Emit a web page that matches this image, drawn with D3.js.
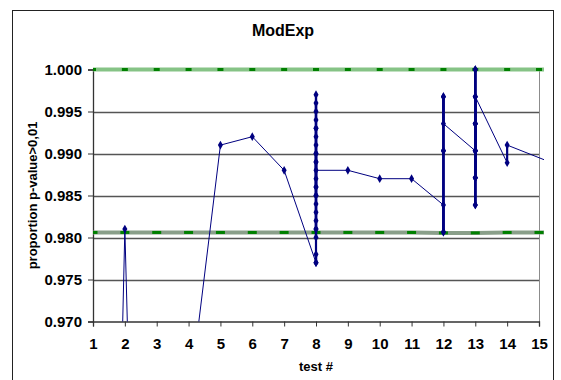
<!DOCTYPE html>
<html lang="en">
<head>
  <meta charset="utf-8">
  <title>ModExp</title>
  <script src="https://d3js.org/d3.v7.min.js" type="text/javascript"></script>
<style>
body { margin: 0; background: #fff; }
svg { display: block; font-family: "Liberation Sans", Arial, sans-serif; }
text { font-weight: bold; fill: #000; }
</style>
</head>
<body>
<svg width="561" height="380"></svg>

<script>

// test number of each result, in the order they were plotted
var testNo = [1, 2, 3, 3, 4, 5, 6, 7,
  8, 8, 8, 8, 8, 8, 8, 8, 8, 8, 8, 8, 8, 8, 8, 8, 8, 8, 8, 8, 8, 8, 8, 8, 8, 8, 8,
  9, 10, 11,
  12, 12, 12, 12, 12, 12, 12, 12,
  13, 13, 13, 13, 13, 13, 13, 13, 13, 13, 13, 13, 13, 13, 13, 13, 13, 13,
  14, 14, 16];

var proportion = [0.818, 0.981, 0.838, 0.85, 0.960, 0.991, 0.992, 0.988,
  0.977, 0.978, 0.977, 0.981, 0.985, 0.990, 0.994, 0.997, 0.993, 0.989, 0.984, 0.980,
  0.982, 0.986, 0.991, 0.995, 0.996, 0.992, 0.987, 0.983, 0.981, 0.990, 0.985, 0.993,
  0.986, 0.989, 0.988,
  0.988, 0.987, 0.987,
  0.98387, 0.98065, 0.99032, 0.99677, 0.99032, 0.98065, 0.99677, 0.99355,
  0.99032, 0.98710, 0.99355, 1.000, 0.98387, 0.99677, 0.99032, 0.99355, 0.98710,
  1.000, 0.99355, 0.98387, 0.99032, 0.99677, 0.99355, 0.98710, 0.99032, 0.99677,
  0.9889, 0.991, 0.988];

// acceptance band per test
var bandTest = [1, 2, 3, 4, 5, 6, 7, 8, 9, 10, 11, 12, 13, 14, 15, 16];
var upperBound = [1, 1, 1, 1, 1, 1, 1, 1, 1, 1, 1, 1, 1, 1, 1, 1];
var lowerBound = [0.9806, 0.9806, 0.9806, 0.9806, 0.9806, 0.9806, 0.9806, 0.9806,
  0.9806, 0.9806, 0.9806, 0.98055, 0.98055, 0.9806, 0.9806, 0.9806];

var xTicks = d3.range(1, 16);
var yTicks = [0.970, 0.975, 0.980, 0.985, 0.990, 0.995, 1.000];

function drawChart() {
  var svg = d3.select('svg');
  var left = 93, right = 539, top = 69.5, bottom = 321.5;

  var x = d3.scaleLinear().domain([1, 15]).range([left, right]);
  var y = d3.scaleLinear().domain([0.970, 1.000]).range([bottom, top]);

  // chart area frame
  svg.append('rect')
    .attr('x', 12.5).attr('y', 10.5)
    .attr('width', 541).attr('height', 400)
    .attr('fill', '#fff')
    .attr('stroke', '#222');

  svg.append('text')
    .attr('x', 283).attr('y', 36)
    .attr('text-anchor', 'middle')
    .attr('font-size', 16)
    .text('ModExp');

  svg.append('defs').append('clipPath').attr('id', 'plot')
    .append('rect')
    .attr('x', left).attr('y', top - 10)
    .attr('width', 544 - left).attr('height', bottom - top + 10);

  // gridlines
  svg.append('g')
    .selectAll('line')
    .data(yTicks.slice(1, -1))
    .enter().append('line')
    .attr('x1', left).attr('x2', right)
    .attr('y1', d => Math.round(y(d)) + .5)
    .attr('y2', d => Math.round(y(d)) + .5)
    .attr('stroke', '#555')
    .attr('stroke-width', 1.3);

  svg.append('line')
    .attr('x1', right + .5).attr('x2', right + .5)
    .attr('y1', top).attr('y2', bottom)
    .attr('stroke', '#8c8c8c');

  // axes
  var yAxis = svg.append('g')
    .attr('transform', `translate(${left},0)`)
    .call(d3.axisLeft(y).tickValues(yTicks).tickFormat(d3.format('.3f')).tickSize(5).tickPadding(6));
  var xAxis = svg.append('g')
    .attr('transform', `translate(0,${bottom})`)
    .call(d3.axisBottom(x).tickValues(xTicks).tickSize(5).tickPadding(12));
  [xAxis, yAxis].forEach(a => {
    a.select('.domain').attr('stroke', '#333').attr('stroke-width', 1.3);
    a.selectAll('.tick line').attr('stroke', '#333');
    a.selectAll('.tick text').attr('font-size', 15).attr('font-family', null).attr('fill', '#000');
  });

  svg.append('text')
    .attr('transform', `translate(37,${(top + bottom) / 2})rotate(-90)`)
    .attr('text-anchor', 'middle')
    .attr('font-size', 13)
    .text('proportion p-value>0,01');

  svg.append('text')
    .attr('x', (left + right) / 2).attr('y', 371)
    .attr('text-anchor', 'middle')
    .attr('font-size', 13)
    .text('test #');

  var plot = svg.append('g').attr('clip-path', 'url(#plot)');

  // acceptance band lines
  var bands = [
    {values: upperBound, color: '#86c386', mark: 6},
    {values: lowerBound, color: '#8a9f8a', mark: 9}
  ];
  bands.forEach(b => {
    var pts = bandTest.map((t, i) => [t, b.values[i]]);
    plot.append('path')
      .attr('d', d3.line().x(d => x(d[0])).y(d => y(d[1]))(pts))
      .attr('fill', 'none')
      .attr('stroke', b.color)
      .attr('stroke-width', 4);
    plot.selectAll(null)
      .data(pts)
      .enter().append('rect')
      .attr('x', d => x(d[0]) - b.mark / 2)
      .attr('y', d => y(d[1]) - 1.5)
      .attr('width', b.mark).attr('height', 3)
      .attr('fill', '#008000');
  });

  // results, one segment at a time so stacked results read heavier
  var pts = testNo.map((t, i) => [t, proportion[i]]);
  plot.selectAll(null)
    .data(d3.pairs(pts))
    .enter().append('line')
    .attr('x1', d => x(d[0][0])).attr('y1', d => y(d[0][1]))
    .attr('x2', d => x(d[1][0])).attr('y2', d => y(d[1][1]))
    .attr('stroke', '#000080')
    .attr('stroke-width', d => d[0][0] === d[1][0] ? 2.2 : 1);

  plot.selectAll(null)
    .data(pts)
    .enter().append('path')
    .attr('transform', d => `translate(${x(d[0])},${y(d[1])})`)
    .attr('d', d3.symbol(d3.symbolDiamond, 22))
    .attr('fill', '#000080');
}

drawChart()

</script>
</body>
</html>
